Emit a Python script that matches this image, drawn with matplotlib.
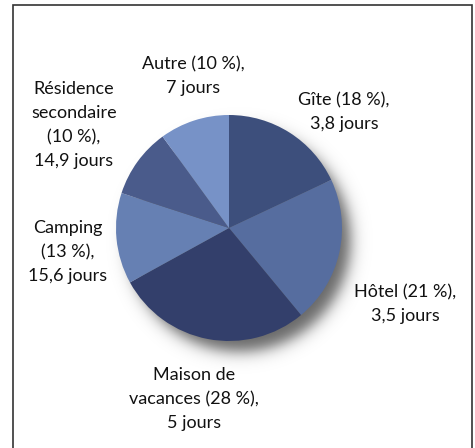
import numpy as np
import matplotlib.pyplot as plt
from matplotlib.patches import Rectangle

# hébergement: part (%) et durée moyenne du séjour
categories = ['Gîte', 'Hôtel', 'Maison de\nvacances', 'Camping', 'Résidence\nsecondaire', 'Autre']
parts = [18, 21, 28, 13, 10, 10]
jours = ['3,8', '3,5', '5', '15,6', '14,9', '7']
colors = ['#3d4f7c', '#566d9f', '#333f6b', '#6680b3', '#4a5b8b', '#7792c7']
# saut de ligne avant le pourcentage (étiquettes étroites à gauche)
sep = [' ', ' ', ' ', '\n', '\n', ' ']

plt.rcParams['font.family'] = ['Lato', 'DejaVu Sans']

W, H = 475, 448
fig = plt.figure(figsize=(W / 100, H / 100), dpi=100)
ax = fig.add_axes([0, 0, 1, 1])

cx, cy, R = 229, H - 228, 113

# ombre portée floue
yy, xx = np.mgrid[0:H, 0:W]
d = np.hypot(xx - (cx + 10), (H - yy) - (cy - 12))
alpha = 0.6 * 0.5 * (1 - np.tanh((d - R + 2) / 9.0))
shadow = np.zeros((H, W, 4))
shadow[..., 3] = alpha
ax.imshow(shadow, extent=(0, W, 0, H), origin='upper', zorder=1)

ax.pie(parts, colors=colors, startangle=90, counterclock=False,
       center=(cx, cy), radius=R, frame=True,
       wedgeprops=dict(linewidth=0, zorder=2))

labels = [f'{c}{s}({p} %),\n{j} jours' for c, s, p, j in zip(categories, sep, parts, jours)]
pos = [(344, 112), (405, 304), (194, 399), (68, 252), (74, 125), (193, 76)]
for lab, (x, y) in zip(labels, pos):
    ax.text(x, H - y, lab, ha='center', va='center', fontsize=13,
            linespacing=1.6, color='#111111', zorder=3)

ax.add_patch(Rectangle((12.5, -10), 459.5, H - 4.5 + 10, fill=False,
                       edgecolor='#333333', linewidth=1.2, zorder=4))

ax.set_xlim(0, W)
ax.set_ylim(0, H)
ax.set_aspect('equal')
ax.axis('off')
fig.savefig('out.png', dpi=100)
